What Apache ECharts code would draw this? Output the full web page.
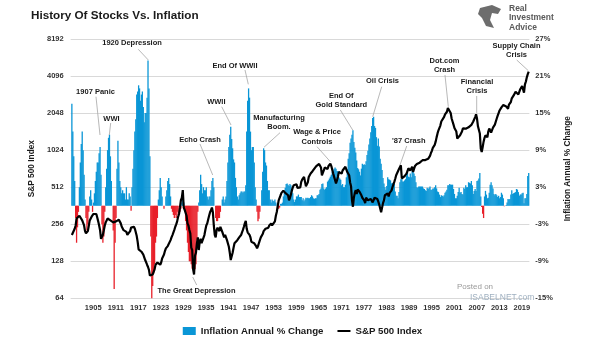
<!DOCTYPE html>
<html><head><meta charset="utf-8">
<script src="https://cdn.jsdelivr.net/npm/echarts/dist/echarts.min.js"></script>
<style>html,body{margin:0;padding:0;background:#fff}#c{width:605px;height:341px}</style>
</head><body><div id="c"></div>
<script>
// Quarterly data, starting 1900 Q1
const startYear = 1900;
// Inflation, annual % change (quarterly readings)
const inflationQ = [
16.5,12,8,4, -2,-6,-3.5,-1, 3,7,10,12, 9,5,1,-2, -4,-3,-1,1.5, 2.5,1,-1,0.5, 2,4,5.5,7, 7,8.5,9.5,5, -3,-6,-5,-1, 3,6,9,11,
11.5,8,4,0, -4,-13.5,-6,-2, 6,10.5,7,4, 3,2,2.5,2, 2,1,3,1, 1,2,1.5,-0.8, 3,6,9,12, 14,18,18.5,19.5, 19,17,18,18.5, 16,13.5,15,15,
17.5,23.5,19,8, -5,-15,-13,-11, -9.5,-6,-5,-2, 1,2.5,4.5,3, 1.5,0,-0.5,0, 1.5,2.5,4,4.5, 3.5,1.5,-0.5,-1, -1.5,-2,-1.5,-2, -1,-1.5,0,-1, -0.5,0.5,1,0.5,
-0.5,-2.5,-4,-6, -7.5,-9,-9,-9.5, -10.2,-10,-10,-10.3, -9.5,-5.5,-1,0.5, 2.5,5,3.5,2, 3,2.5,2.5,3, 1.5,1,1.5,1.5, 2.5,4,4.5,3, 0,-2,-2.5,-2.5, -2,-2,-1,0,
1,1.5,0.5,1, 1.5,4,7,9.5, 11.5,12.8,10.8,9.3, 7.5,7,4.5,3, 1.5,1,1.7,2, 2.3,2.3,2.1,2.3, 2.3,3.3,12,17, 19,17.5,12,9, 9.5,9.5,7,3, 1,-1,-2.5,-2.1,
-1,0,2.5,5.5, 9.3,9,7,6.5, 4,2.5,2.5,1, 0.5,1,0.8,0.7, 1,0.5,0,-0.5, -0.5,-0.3,0.3,0.3, 0.5,1.5,2.2,2.9, 3.5,3.6,3.4,3.2, 3.5,3.3,2.4,2, 1,0.6,1,1.5,
1.5,1.8,1.4,1.4, 1.4,0.9,1.2,0.7, 1,1.3,1.2,1.3, 1.2,1.2,1.4,1.7, 1.5,1.2,1.1,1.2, 1.2,1.7,1.7,1.9, 2.6,2.8,3.5,3.6, 2.8,2.6,2.8,3, 3.9,4.1,4.4,4.7, 5,5.5,5.7,6,
6.2,6,5.6,5.6, 4.6,4.4,4.2,3.3, 3.5,3,3,3.4, 4.6,5.9,7.6,8.5, 10.2,10.9,11.5,12.2, 10.3,9.4,8.6,7.3, 6.1,5.9,5.5,4.9, 6,6.8,6.6,6.7, 6.6,7.2,8.2,8.9, 9.9,10.9,11.9,12.9,
14.2,14.4,12.9,12.6, 11.1,9.7,10.9,9.6, 7.6,6.8,5.8,4.5, 3.6,3,2.6,3.2, 4.6,4.3,4.2,4.1, 3.6,3.7,3.3,3.5, 2.3,1.6,1.6,1.2, 2.2,3.8,4.3,4.4, 3.9,3.9,4.1,4.3, 4.9,5.3,4.7,4.6,
5.2,4.6,5.6,6.2, 5.2,4.8,3.8,3, 2.9,3.1,3.1,3.1, 3.1,3.1,2.8,2.7, 2.5,2.4,2.9,2.7, 2.9,3.1,2.6,2.6, 2.8,2.8,3,3.3, 2.8,2.3,2.2,1.8, 1.4,1.7,1.6,1.5, 1.7,2.1,2.3,2.6,
3.3,3.3,3.5,3.4, 3.4,3.4,2.7,1.9, 1.2,1.2,1.6,2.2, 2.9,2.1,2.2,1.9, 1.8,2.9,2.7,3.3, 3,3,3.8,3.7, 3.6,4,3.3,1.9, 2.4,2.7,2.4,4, 4.1,4.4,5.3,1.5, -0.2,-1.3,-2,1.5,
2.4,1.8,1.2,1.3, 2.1,3.4,3.8,3.3, 2.8,1.9,1.7,1.9, 1.7,1.4,1.6,1.2, 1.4,2.1,1.8,1.2, -0.1,0,0.1,0.5, 1.1,1,1.1,1.8, 2.5,1.9,2,2.1, 2.2,2.7,2.6,2.2, 1.6,1.8,1.8,2,
2.1,0.4,1.2,1.2, 1.9,4.8,5.3
];
// S&P 500 Index (inflation adjusted), quarterly readings
const sp500Q = [
209,205,215,235, 250,285,280,290, 300,303,295,275, 270,250,225,216, 215,225,248,275, 285,295,300,310, 313,305,310,290, 270,250,229,195, 190,210,229,250, 265,275,285,290,
285,275,270,275, 265,262,275,270, 275,280,278,270, 260,245,240,229, 230,225,222,210, 209,215,225,240, 245,240,244,235, 220,205,184,160, 160,158,153,150, 145,140,131,128,
120,115,109,98, 96,99,100,105, 110,120,124,125, 127,122,120,125, 135,135,145,155, 163,165,170,168, 175,190,200,209, 215,230,244,255, 270,294,310,350, 401,420,484,350,
335,340,300,260, 250,230,215,165, 158,110,100,142, 150,179,200,158, 185,195,180,185, 180,209,230,250, 260,280,300,320, 333,350,320,250, 210,200,230,240, 235,225,244,240,
222,215,200,210, 207,190,185,168, 150,131,135,150, 165,179,185,180, 190,195,200,205, 209,220,230,244, 260,272,235,220, 225,210,200,184, 180,190,179,175, 170,163,170,180,
190,200,205,213, 225,230,235,235, 235,240,250,255, 260,250,245,250, 270,300,322,360, 400,415,440,460, 469,480,470,460, 455,450,440,400, 420,445,480,510, 531,540,545,540,
505,500,500,510, 565,590,610,621, 600,520,510,560, 620,640,662,670, 690,710,725,740, 760,750,771,790, 780,740,640,650, 700,740,750,750, 720,760,771,794, 760,740,660,680,
640,550,580,620, 680,700,685,660, 700,720,725,750, 760,680,660,640, 560,520,400,355, 420,460,484,450, 490,480,470,460, 440,420,410,400, 380,420,425,400, 395,400,410,400,
385,390,420,427, 420,410,390,370, 344,320,313,380, 400,440,440,445, 455,430,460,470, 480,510,520,565, 600,640,660,650, 720,740,771,602, 610,620,630,640, 660,690,730,720,
700,720,750,680, 720,760,780,790, 800,800,810,820, 840,848,850,860, 850,830,850,870, 880,920,970,1010, 1070,1110,1130,1200, 1300,1400,1484,1530, 1620,1750,1700,1750, 1905,2000,2050,2100,
2250,2200,2300,2050, 1850,1785,1650,1550, 1600,1450,1273,1250, 1230,1350,1400,1450, 1540,1520,1500,1530, 1560,1550,1570,1580, 1620,1640,1650,1750, 1800,1900,2000,1850, 1600,1560,1400,1050, 990,1080,1200,1290,
1350,1380,1300,1450, 1533,1560,1420,1450, 1560,1580,1650,1700, 1850,1950,2050,2150, 2200,2280,2350,2380, 2420,2450,2320,2330, 2220,2400,2460,2520, 2700,2780,2850,2950, 3050,3000,3150,2900, 3000,3200,3250,3400,
3300,3000,3500,3700, 4000,4250,4450
];
// Tick labels
const xTickYears = [1905,1911,1917,1923,1929,1935,1941,1947,1953,1959,1965,1971,1977,1983,1989,1995,2001,2007,2013,2019];
const leftTicks = [64,128,256,512,1024,2048,4096,8192];
const rightTicks = [-15,-9,-3,3,9,15,21,27];
// Annotations: label, text anchor (year, % on right axis), pointer from -> to
const annotations = [
  {text:'1920 Depression', t:1916.12, v:26.30, p:[1917.79,25.33,1920.45,23.6]},
  {text:'1907 Panic', t:1906.41, v:18.46, p:[1906.54,17.65,1907.61,11.45]},
  {text:'WWI', t:1910.66, v:14.04, p:[1910.45,13.39,1910.08,11.45]},
  {text:'End Of WWII', t:1943.51, v:22.68, p:[1946.17,21.98,1947.05,19.66]},
  {text:'WWII', t:1938.54, v:16.84, p:[1939.97,16.03,1942.45,13.07]},
  {text:'Echo Crash', t:1934.20, v:10.64, p:[1934.20,9.99,1937.58,4.97]},
  {text:'Manufacturing\nBoom.', t:1955.21, v:13.48, p:[1955.48,11.82,1951.22,9.46]},
  {text:'Wage & Price\nControls', t:1965.32, v:11.13, p:[1965.32,9.56,1968.86,7.13]},
  {text:'End Of\nGold Standard', t:1971.78, v:17.07, p:[1971.52,15.50,1974.81,12.26]},
  {text:'Oil Crisis', t:1982.74, v:20.20, p:[1982.53,19.27,1980.13,14.41]},
  {text:"'87 Crash", t:1989.73, v:10.53, p:[1989.18,9.67,1987.39,6.59]},
  {text:'Dot.com\nCrash', t:1999.23, v:22.74, p:[1999.36,21.17,2000.24,16.03]},
  {text:'Financial\nCrisis', t:2007.87, v:19.34, p:[2007.79,17.77,2007.79,14.97]},
  {text:'Supply Chain\nCrisis', t:2018.38, v:25.17, p:[2018.43,23.60,2021.52,21.87]},
  {text:'The Great Depression', t:1933.27, v:-13.82, p:[1932.26,-11.55,1933.32,-12.85]}
];

const AX0 = 1899.8; // axis origin (year)
const qTime = i => startYear + Math.floor(i/4) + (i%4)*0.25 + 0.125 - AX0;
const barData = inflationQ.map((v,i)=>[qTime(i), v]);
const lineData = sp500Q.map((v,i)=>[qTime(i), v]);

const BLUE = '#0a96d6', RED = '#e8202a';
const FONT = '"Liberation Sans", Arial, sans-serif';
const chart = echarts.init(document.getElementById('c'), null, {renderer:'canvas'});
const option = {
  animation:false,
  backgroundColor:'#fff',
  title:{text:'History Of Stocks Vs. Inflation', left:26, top:5,
    textStyle:{fontFamily:FONT, fontSize:11.7, fontWeight:'bold', color:'#1a1a1a'}},
  grid:{left:70.65, right:75.63, top:39, bottom:42.7},
  legend:{top:321, left:'center', itemGap:14, itemWidth:13, itemHeight:8,
    textStyle:{fontFamily:FONT, fontSize:9.7, fontWeight:'bold', color:'#1a1a1a'},
    data:[{name:'Inflation Annual % Change', icon:'rect', itemStyle:{color:BLUE}},
          {name:'S&P 500 Index', icon:'path://M0,0L13,0L13,0.01L0,0.01Z M0,3L13,3L13,5L0,5Z M0,7.99L13,7.99L13,8L0,8Z', itemStyle:{color:'#000'}}]},
  xAxis:{type:'value', min:0, max:122, interval:6,
    axisLine:{show:false}, axisTick:{show:false}, splitLine:{show:false},
    axisLabel:{margin:6, fontFamily:FONT, fontSize:7.5, fontWeight:'bold', color:'#333',
      showMinLabel:false, showMaxLabel:false,
      formatter:v=>{const y=Math.round(v+1899); return xTickYears.indexOf(y)>=0?String(y):'';}}},
  yAxis:[
    {type:'log', logBase:2, min:leftTicks[0], max:leftTicks[leftTicks.length-1],
      name:'S&P 500 Index', nameLocation:'middle', nameGap:26.5,
      nameTextStyle:{fontFamily:FONT, fontSize:8.3, fontWeight:'bold', color:'#1a1a1a'},
      axisLine:{show:false}, axisTick:{show:false},
      splitLine:{lineStyle:{color:'#d9d9d9', width:1}},
      axisLabel:{margin:7, fontFamily:FONT, fontSize:7.5, fontWeight:'bold', color:'#333',
        formatter:v=>String(Math.round(v))}},
    {type:'value', min:rightTicks[0], max:rightTicks[rightTicks.length-1], interval:6,
      name:'Inflation Annual % Change', nameLocation:'middle', nameGap:28.2,
      nameTextStyle:{fontFamily:FONT, fontSize:8.3, fontWeight:'bold', color:'#1a1a1a'},
      axisLine:{show:false}, axisTick:{show:false}, splitLine:{show:false},
      axisLabel:{margin:6, fontFamily:FONT, fontSize:7.5, fontWeight:'bold', color:'#333', formatter:'{value}%'}}
  ],
  series:[
    {name:'Inflation Annual % Change', type:'bar', yAxisIndex:1, barWidth:1.3, data:barData,
      color:BLUE, itemStyle:{color:p=>p.value[1]>=0?BLUE:RED}},
    {name:'S&P 500 Index', type:'line', yAxisIndex:0, data:lineData, symbol:'none',
      color:'#000', lineStyle:{color:'#000', width:2.2}, itemStyle:{color:'#000'}, z:5}
  ]
};
chart.setOption(option);

// annotations positioned through the axes
const toPx = (t,v)=>chart.convertToPixel({xAxisIndex:0, yAxisIndex:1}, [t-AX0, v]);
const graphics = [];
annotations.forEach(a=>{
  const a1 = toPx(a.p[0],a.p[1]), a2 = toPx(a.p[2],a.p[3]), tp = toPx(a.t,a.v);
  graphics.push({type:'line', z:50, shape:{x1:a1[0],y1:a1[1],x2:a2[0],y2:a2[1]},
    style:{stroke:'#a6a6a6', lineWidth:0.8}});
  graphics.push({type:'text', z:51, x:tp[0], y:tp[1], style:{text:a.text, align:'center', verticalAlign:'middle',
    fontFamily:FONT, fontSize:7.5, fontWeight:'bold', fill:'#1a1a1a', lineHeight:9.5}});
});
// brand / watermark texts
graphics.push({type:'polygon', z:60, shape:{points:[[480,8],[492,5],[501,9],[498,14],[492,13],[490,20],[494,28],[486,26],[482,18],[478,14]]},
  style:{fill:'#6d6d6d'}});
graphics.push({type:'text', z:60, x:509, y:4, style:{text:'Real\nInvestment\nAdvice', fontFamily:FONT, fontSize:8.5, fontWeight:'bold', fill:'#5a5a5a', lineHeight:9.3}});
graphics.push({type:'text', z:60, x:457, y:283, style:{text:'Posted on', fontFamily:FONT, fontSize:8, fill:'#9a9a9a'}});
graphics.push({type:'text', z:60, x:470, y:293, style:{text:'ISABELNET.com', fontFamily:FONT, fontSize:8.5, fill:'#9fb0c0'}});
chart.setOption({graphic:graphics});
</script>
</body></html>
